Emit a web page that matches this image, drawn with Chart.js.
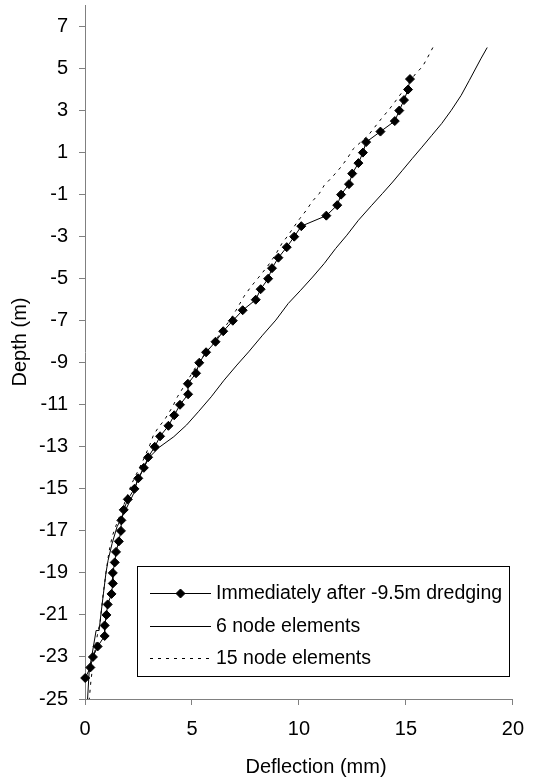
<!DOCTYPE html>
<html>
<head>
<meta charset="utf-8">
<script src="https://cdn.jsdelivr.net/npm/chart.js@4.4.1/dist/chart.umd.min.js"></script>
<style>html,body{margin:0;padding:0;background:#fff;}canvas{display:block;}</style>
</head>
<body>
<canvas id="c" width="536" height="781"></canvas>
<script>
// ---- tick labels ----
const depthTicks = [-25, -23, -21, -19, -17, -15, -13, -11, -9, -7, -5, -3, -1, 1, 3, 5, 7];
const deflectionTicks = [0, 5, 10, 15, 20];

// ---- series names ----
const seriesNames = ['Immediately after -9.5m dredging', '6 node elements', '15 node elements'];

// ---- measured: Immediately after -9.5m dredging ----
const depthMeasured = [4.5, 4, 3.5, 3, 2.5, 2, 1.5, 1, 0.5, 0, -0.5, -1, -1.5, -2, -2.5, -3, -3.5, -4, -4.5, -5,
  -5.5, -6, -6.5, -7, -7.5, -8, -8.5, -9, -9.5, -10, -10.5, -11, -11.5, -12, -12.5, -13, -13.5, -14, -14.5, -15,
  -15.5, -16, -16.5, -17, -17.5, -18, -18.5, -19, -19.5, -20, -20.5, -21, -21.5, -22, -22.5, -23, -23.5, -24];
const deflMeasured = [15.19, 15.10, 14.91, 14.69, 14.48, 13.81, 13.14, 12.99, 12.78, 12.49, 12.34, 11.97, 11.79, 11.28, 10.11, 9.78, 9.43, 9.04, 8.74, 8.56,
  8.21, 7.98, 7.37, 6.91, 6.46, 6.10, 5.66, 5.34, 5.19, 4.81, 4.82, 4.44, 4.17, 3.90, 3.51, 3.26, 2.95, 2.75, 2.49, 2.31,
  2.00, 1.81, 1.70, 1.68, 1.58, 1.45, 1.39, 1.30, 1.30, 1.24, 1.06, 1.00, 0.92, 0.92, 0.59, 0.37, 0.25, 0.01];

// ---- 6 node elements ----
const depth6 = [6.0, 5.46, 4.43, 3.72, 3.01, 2.38, 1.82, 1.26, 0.71, 0.16, -0.4, -0.95, -1.51, -2.22, -2.93, -3.57, -4.28, -4.92, -5.55, -6.18,
  -6.97, -7.69, -8.48, -9.11, -9.83, -10.62, -11.33, -11.96, -12.52, -13.0, -13.5, -14.0, -14.7, -15.21, -16.08, -16.8, -17.59, -18.4, -19.0, -20.0,
  -21.0, -21.74, -21.74, -23.0, -23.6, -25.0];
const defl6 = [18.80, 18.50, 17.96, 17.58, 17.12, 16.67, 16.21, 15.75, 15.29, 14.84, 14.38, 13.90, 13.40, 12.78, 12.24, 11.71, 11.18, 10.64, 10.08, 9.50,
  8.92, 8.30, 7.65, 7.10, 6.50, 5.90, 5.30, 4.75, 4.15, 3.50, 3.00, 2.75, 2.42, 2.28, 1.86, 1.50, 1.27, 1.08, 0.98, 0.86,
  0.74, 0.66, 0.52, 0.31, 0.20, 0.12];

// ---- 15 node elements ----
const depth15 = [6.0, 5.5, 5.1, 4.75, 3.5, 3.07, 2.61, 2.21, 1.82, 1.19, 0.71, 0.31, -0.16, -0.56, -0.95, -1.30, -1.75, -2.14, -2.54, -2.93,
  -3.33, -3.88, -4.44, -4.92, -5.39, -5.83, -6.5, -7.0, -8.0, -9.0, -10.0, -10.62, -11.1, -11.73, -12.05, -12.44, -12.91, -13.63, -14.18, -14.74,
  -16.0, -16.8, -17.27, -18.0, -19.0, -20.0, -21.3, -22.0, -23.0, -24.1, -25.0];
const defl15 = [16.26, 16.0, 15.78, 15.45, 14.55, 14.23, 13.85, 13.54, 13.24, 12.55, 12.25, 11.96, 11.56, 11.18, 10.95, 10.64, 10.34, 10.04, 9.76, 9.50,
  9.20, 8.89, 8.51, 8.13, 7.75, 7.44, 7.06, 6.75, 6.05, 5.30, 4.70, 4.32, 4.09, 3.71, 3.45, 3.20, 3.03, 2.72, 2.46, 2.19,
  1.73, 1.43, 1.27, 1.12, 0.98, 0.85, 0.71, 0.57, 0.42, 0.28, 0.20];

const FONT = '"Liberation Sans", Arial, Helvetica, sans-serif';
const AXIS_GREY = '#808080';
const toXY = (xs, ys) => xs.map((x, i) => ({ x: x, y: ys[i] }));

Chart.defaults.font.family = FONT;
Chart.defaults.font.size = 20;
Chart.defaults.color = '#000';

function drawDiamond(ctx, x, y, r) {
  ctx.beginPath();
  ctx.moveTo(x, y - r); ctx.lineTo(x + r, y); ctx.lineTo(x, y + r); ctx.lineTo(x - r, y);
  ctx.closePath(); ctx.fill(); ctx.stroke();
}

const boxLegendAndTitles = {
  id: 'boxLegendAndTitles',
  afterDraw(chart) {
    const ctx = chart.ctx;
    ctx.save();
    // legend box
    const L = 137.5, T = 566.5, R = 509.5, B = 676.5;
    ctx.strokeStyle = '#000'; ctx.lineWidth = 1; ctx.setLineDash([]);
    ctx.strokeRect(L, T, R - L, B - T);
    const rows = [593.5, 626.5, 658.5];
    chart.data.datasets.forEach((ds, i) => {
      const y = rows[i];
      ctx.strokeStyle = ds.borderColor; ctx.lineWidth = ds.borderWidth;
      ctx.setLineDash(ds.borderDash || []);
      ctx.beginPath(); ctx.moveTo(150, y); ctx.lineTo(211, y); ctx.stroke();
      ctx.setLineDash([]);
      if (ds.pointRadius > 0) { ctx.fillStyle = '#000'; drawDiamond(ctx, 180.5, y, ds.pointRadius); }
      ctx.fillStyle = '#000'; ctx.font = '19.5px ' + FONT;
      ctx.textAlign = 'left'; ctx.textBaseline = 'middle';
      ctx.fillText(ds.label, 216, y);
    });
    // axis titles
    ctx.fillStyle = '#000'; ctx.font = '20px ' + FONT;
    ctx.textAlign = 'center'; ctx.textBaseline = 'middle';
    ctx.fillText('Deflection (mm)', 316, 767);
    ctx.translate(20, 342); ctx.rotate(-Math.PI / 2);
    ctx.fillText('Depth (m)', 0, 0);
    ctx.restore();
  }
};

new Chart(document.getElementById('c'), {
  type: 'scatter',
  data: {
    datasets: [
      { label: seriesNames[0], data: toXY(deflMeasured, depthMeasured), showLine: true,
        borderColor: '#000', borderWidth: 1, pointStyle: 'rectRot', pointRadius: 4.5,
        pointBackgroundColor: '#000', pointBorderColor: '#000', pointBorderWidth: 1, clip: false },
      { label: seriesNames[1], data: toXY(defl6, depth6), showLine: true,
        borderColor: '#000', borderWidth: 1, pointRadius: 0, clip: false },
      { label: seriesNames[2], data: toXY(defl15, depth15), showLine: true,
        borderColor: '#000', borderWidth: 1, borderDash: [3, 5], pointRadius: 0, clip: false }
    ]
  },
  options: {
    responsive: false, animation: false, devicePixelRatio: 1,
    layout: { padding: { left: 0, right: 15, top: 5, bottom: 0 } },
    plugins: { legend: { display: false }, tooltip: { enabled: false } },
    elements: { line: { tension: 0 } },
    scales: {
      x: {
        type: 'linear', position: 'bottom', min: 0, max: 20,
        afterBuildTicks: s => { s.ticks = deflectionTicks.map(v => ({ value: v })); },
        afterFit: s => { s.height = 82; },
        grid: { drawOnChartArea: false, drawTicks: true, tickLength: 6, color: AXIS_GREY },
        border: { display: true, color: AXIS_GREY, width: 1 },
        ticks: { padding: 12, color: '#000', maxRotation: 0, autoSkip: false, font: { size: 20 } },
        title: { display: false }
      },
      y: {
        type: 'linear', position: 'left', min: -25, max: 8,
        afterBuildTicks: s => { s.ticks = depthTicks.map(v => ({ value: v })); },
        afterFit: s => { s.width = 85; s.paddingTop = 0; s.paddingBottom = 0; },
        grid: { drawOnChartArea: false, drawTicks: true, tickLength: 6, color: AXIS_GREY },
        border: { display: true, color: AXIS_GREY, width: 1 },
        ticks: { padding: 11, color: '#000', autoSkip: false, font: { size: 20 } },
        title: { display: false }
      }
    }
  },
  plugins: [boxLegendAndTitles]
});
</script>
</body>
</html>
